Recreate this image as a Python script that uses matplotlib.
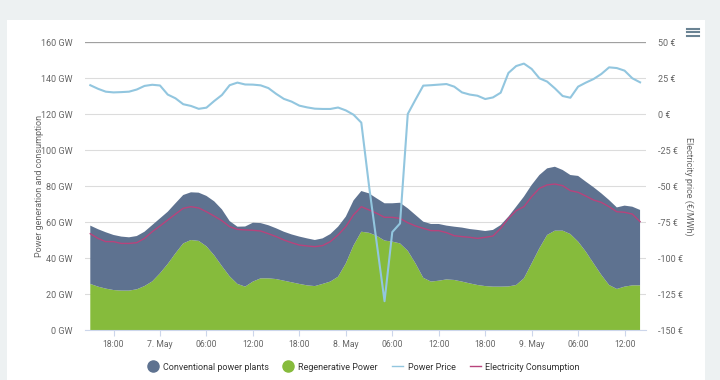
import pandas as pd
import matplotlib.pyplot as plt
from matplotlib.lines import Line2D
from matplotlib.patches import Rectangle

plt.rcParams['font.family'] = ['Roboto', 'DejaVu Sans']

# hourly values, 6 May 15:00 -> 9 May 14:00
times = pd.date_range("2019-05-06 15:00", periods=72, freq="h")

regenerative = [25.6, 24.1, 23, 22.2, 21.9, 21.9, 22.6, 24.4, 27, 31.5, 36.7, 42.6,
                48.1, 50, 49.5, 46.5, 41.5, 35.5, 29.8, 25.6, 24.1, 26.9, 28.7, 28.7,
                28.3, 27.4, 26.5, 25.6, 24.8, 24.4, 25.6, 26.9, 29.6, 37, 47, 54.6,
                54, 52.3, 49.7, 49.1, 48.1, 44, 37, 29, 26.9, 27.4, 28.1, 27.8,
                26.9, 25.9, 25, 24.4, 24.1, 24.1, 24.2, 25, 28.7, 37, 45.4, 52.8,
                55.2, 55.2, 53.3, 49.1, 43.5, 37, 30.6, 25, 22.8, 24.1, 24.8, 24.8]

conventional = [32.4, 31.9, 31.3, 30.6, 30, 29.6, 29.6, 30.2, 31.3, 30.5, 29, 27.8,
                26.9, 26.5, 26.8, 28, 30, 31.5, 30.7, 31.8, 33.4, 32.7, 30.7, 29.5,
                28.2, 27.2, 26.6, 26.3, 26.1, 25.6, 25.3, 26.4, 27.8, 26, 25, 22.6,
                21.9, 20.8, 20.7, 21.3, 22.6, 23.6, 26.9, 31.2, 32, 31.5, 29.9, 29.6,
                30, 30.2, 30.6, 30.6, 31.5, 34.2, 38.8, 43.5, 45.4, 43.6, 40.7, 37,
                35.5, 33.7, 32.8, 36.5, 38.9, 42.3, 45.3, 47.2, 45.3, 45, 43.7, 41.9]

consumption = [53.5, 50.9, 49.1, 49.1, 48.1, 48.1, 48.5, 50.9, 54.6, 57.8, 61.1, 64.4,
               67.6, 68.5, 67.8, 65.7, 63.3, 60.7, 57.4, 55.9, 55.6, 55.4, 55, 53.5,
               51.9, 50, 48.5, 47.2, 46.7, 46.3, 46.9, 49.1, 52.8, 57.4, 64, 68.5,
               66.7, 64.8, 62.6, 62.6, 62, 59.6, 57.8, 56.5, 55.2, 55.2, 54.1, 52.4,
               51.9, 51.5, 50.9, 51.5, 52.2, 56.5, 62, 66.3, 68.5, 74.1, 78.7, 80.6,
               81.1, 80.2, 77.4, 76.5, 74.4, 72.2, 70.9, 68.5, 65.7, 65.4, 64.4, 60.2]

price = [20, 17.5, 15.5, 15, 15.2, 15.5, 17, 19.5, 20.3, 19.8, 13.5, 10.9,
         6.8, 5.6, 3.6, 4.4, 9, 13.2, 20, 21.8, 20.5, 20.4, 19.9, 18,
         14, 10.5, 8.6, 5.8, 4.6, 3.7, 3.5, 3.5, 4.5, 2.5, -0.5, -6,
         -50, -90, -130, -82, -76, 0, 10, 19.7, 20, 20.4, 20.8, 19,
         15, 13.5, 12.7, 10.4, 11.5, 14.8, 28.5, 33.3, 35, 31.3, 24.8, 22.5,
         17.8, 12.5, 11.3, 19, 21.8, 24.3, 27.8, 32.4, 31.9, 30.1, 24.8, 22]

gw_ticks = list(range(0, 161, 20))
eur_ticks = list(range(-150, 51, 25))
x_ticks = pd.date_range("2019-05-06 18:00", "2019-05-09 12:00", freq="6h")

c_conv = "#5e7290"
c_regen = "#86bb3c"
c_price = "#92c6df"
c_cons = "#b8437c"
txt = "#666666"

fig = plt.figure(figsize=(7.2, 3.8), dpi=100)
fig.patch.set_facecolor("#edf1f2")
fig.patches.append(Rectangle((7 / 720, 0), 698 / 720, 360 / 380, transform=fig.transFigure,
                             facecolor="white", edgecolor="none", zorder=-10))

ax = fig.add_axes([85 / 720, 50 / 380, 561 / 720, 288 / 380])
ax.set_facecolor("none")
ax.stackplot(times, regenerative, conventional, colors=[c_regen, c_conv], linewidth=0, zorder=2)
ax.plot(times, consumption, color=c_cons, lw=1, zorder=3)

ax.set_ylim(0, 160)
ax.set_yticks(gw_ticks)
ax.set_yticklabels([f"{v} GW" for v in gw_ticks])
ax.set_xlim(times[0] - pd.Timedelta(minutes=41), times[-1] + pd.Timedelta(minutes=46))
ax.set_xticks(x_ticks)
ax.set_xticklabels([f"{t.day}. {t:%b}" if t.hour == 0 else f"{t:%H:%M}" for t in x_ticks])
ax.grid(axis="y", color="#dcdcdc", lw=0.8, zorder=0)
ax.set_axisbelow(True)
for s in ["left", "right", "top"]:
    ax.spines[s].set_visible(False)
ax.spines["bottom"].set_color("#ccd6eb")
ax.tick_params(axis="y", length=0, pad=9, labelsize=6.5, labelcolor=txt)
ax.tick_params(axis="x", length=4, color="#ccd6eb", pad=3, labelsize=6.2, labelcolor=txt)
ax.axhline(160, color="#a0a0a0", lw=0.9, zorder=1)
ax.set_ylabel("Power generation and consumption", fontsize=6.5, color=txt, labelpad=-2)

ax2 = ax.twinx()
ax2.plot(times, price, color=c_price, lw=1.5, zorder=4)
ax2.set_ylim(-150, 50)
ax2.set_yticks(eur_ticks)
ax2.set_yticklabels([f"{v} €" for v in eur_ticks])
for s in ax2.spines.values():
    s.set_visible(False)
ax2.tick_params(axis="y", length=0, pad=9, labelsize=6.5, labelcolor=txt)
ax2.set_ylabel("Electricity price (€/MWh)", fontsize=6.5, color=txt, rotation=270, labelpad=7)

# menu icon
for yy in [28.5, 32, 35.5]:
    fig.add_artist(Line2D([687 / 720, 699 / 720], [1 - yy / 380] * 2, color="#6a8393", lw=1.5))

handles = [
    Line2D([], [], marker="o", ls="none", ms=8, color=c_conv),
    Line2D([], [], marker="o", ls="none", ms=8, color=c_regen),
    Line2D([], [], color=c_price, lw=1),
    Line2D([], [], color=c_cons, lw=1),
]
labels = ["Conventional power plants", "Regenerative Power", "Power Price", "Electricity Consumption"]
fig.legend(handles, labels, loc="center", bbox_to_anchor=(0.505, 1 - 367 / 380), ncol=4,
           frameon=False, fontsize=6.5, labelcolor="#333333", handlelength=1.2,
           handletextpad=0.5, columnspacing=1.6)

fig.savefig("out.png", dpi=100)
